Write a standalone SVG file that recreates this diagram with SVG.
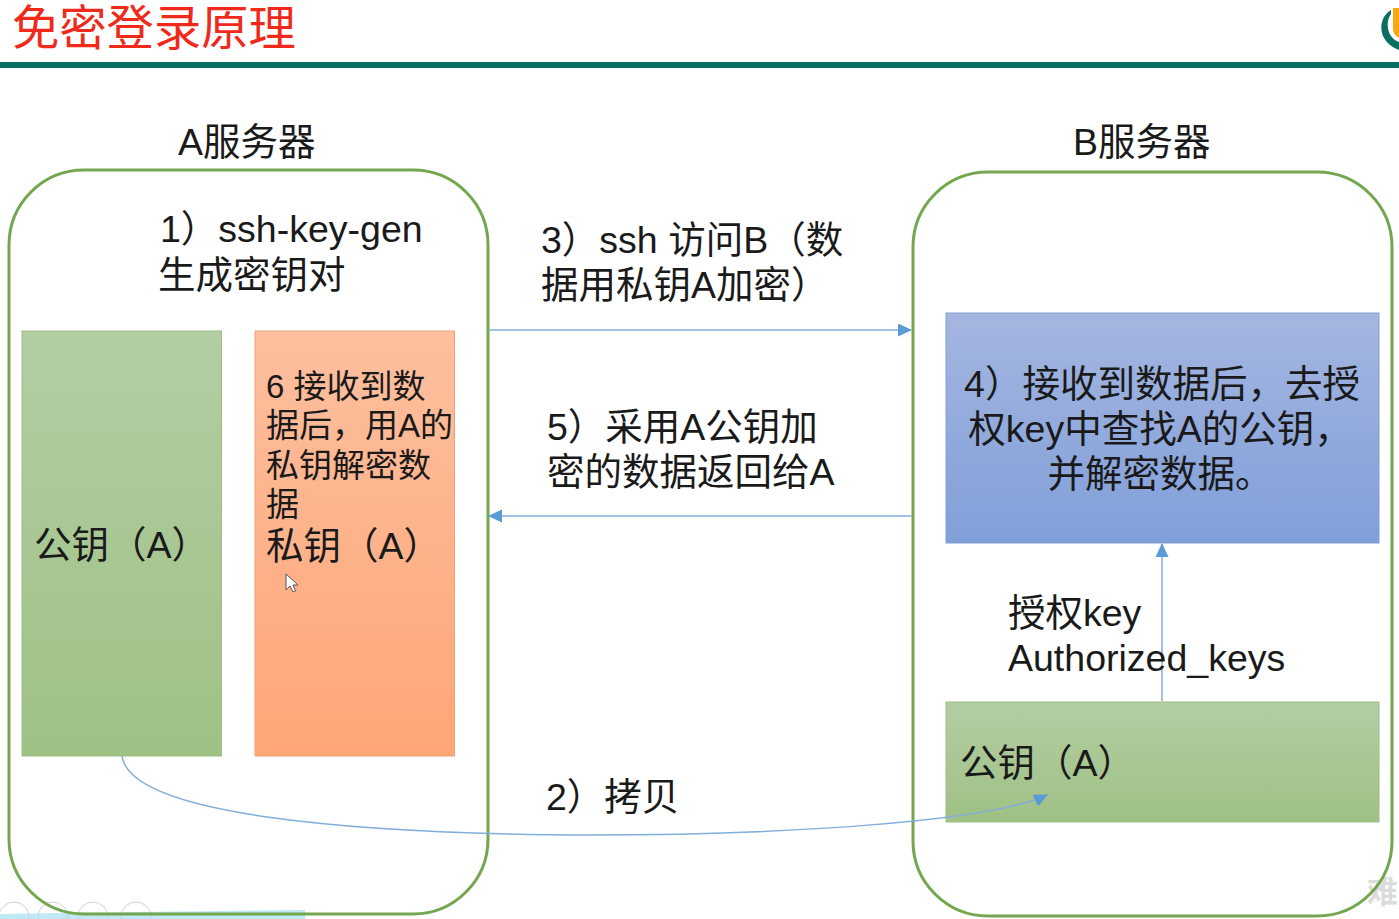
<svg xmlns="http://www.w3.org/2000/svg" width="1399" height="919" viewBox="0 0 1399 919">
<defs>
<linearGradient id="gGreen" x1="0" y1="0" x2="0" y2="1"><stop offset="0" stop-color="#b3cda3"/><stop offset="1" stop-color="#9fc184"/></linearGradient>
<linearGradient id="gOrange" x1="0" y1="0" x2="0" y2="1"><stop offset="0" stop-color="#fdbf9f"/><stop offset="1" stop-color="#fea676"/></linearGradient>
<linearGradient id="gBlue" x1="0" y1="0" x2="0" y2="1"><stop offset="0" stop-color="#a5b6e0"/><stop offset="1" stop-color="#809fd9"/></linearGradient>
<marker id="arr" markerUnits="userSpaceOnUse" markerWidth="14" markerHeight="14" refX="13" refY="6.5" orient="auto"><path d="M0,0 L14,6.5 L0,13 Z" fill="#5b9bd5"/></marker>
</defs>
<style>
text{font-family:"Liberation Sans","Noto Sans CJK SC",sans-serif;fill:#1a1a1a}
.t{font-size:37.500px}
.s{font-size:33px}
.server{fill:none;stroke:#74a64f;stroke-width:3}
.line{fill:none;stroke:#82aedb;stroke-width:1.500}
.box{stroke-width:1}
</style>
<rect width="1399" height="919" fill="#fff"/>
<g id="header">
<text x="12" y="45" font-size="47.300" style="fill:#f02a1a">免密登录原理</text>
<rect x="0" y="62" width="1399" height="6" fill="#0b6e63"/>
<path d="M1391,10 C1377,18 1377,42 1399,50 L1399,42 C1387,38 1385,22 1391,14 Z" fill="#0b6e63"/>
<path d="M1393,8 L1399,8 L1399,38 C1395,36 1393,33 1393,29 Z" fill="#f7a80f"/>
</g>
<g id="overlay">
<path d="M0,914 L60,913 L305,910 L305,919 L0,919 Z" fill="#bfe9f5"/>
<g fill="none" stroke="#d2d2d2" stroke-width="1"><circle cx="14" cy="917" r="15"/><circle cx="53" cy="917" r="15"/><circle cx="93" cy="917" r="15"/><circle cx="136" cy="917" r="15"/></g>
<text x="1367" y="903" font-size="31" style="fill:#dcdcdc" font-weight="bold">难</text>
</g>
<g id="server-a">
<rect class="server" x="9" y="170" width="479" height="744" rx="75" ry="75"/>
<text class="t" x="178" y="155">A服务器</text>
<text class="t" x="160" y="242">1）ssh-key-gen</text>
<text class="t" x="158" y="288">生成密钥对</text>
</g>
<g id="server-b">
<rect class="server" x="913" y="172" width="479" height="744" rx="75" ry="75"/>
<text class="t" x="1073" y="155">B服务器</text>
</g>
<g id="public-a">
<rect class="box" x="22" y="331" width="199.500" height="425" fill="url(#gGreen)" stroke="#9dbd85"/>
<text class="t" x="34" y="558">公钥（A）</text>
</g>
<g id="private-a">
<rect class="box" x="255" y="331" width="199.500" height="425" fill="url(#gOrange)" stroke="#eda17a"/>
<text class="s" x="266" y="398">6 接收到数</text>
<text class="s" x="266" y="437">据后，用A的</text>
<text class="s" x="266" y="477">私钥解密数</text>
<text class="s" x="266" y="516">据</text>
<text class="t" x="266" y="559">私钥（A）</text>
<path d="M286,574 L286,590 L290,586 L293,592 L295.500,591 L293,585 L298,585 Z" fill="#fff" stroke="#555" stroke-width="1"/>
</g>
<g id="decrypt-b">
<rect class="box" x="946" y="313" width="433" height="230" fill="url(#gBlue)" stroke="#7f9fd0"/>
<text class="t" x="1162" y="397" text-anchor="middle">4）接收到数据后，去授</text>
<text class="t" x="1160" y="442" text-anchor="middle">权key中查找A的公钥，</text>
<text class="t" x="1160" y="487" text-anchor="middle">并解密数据。</text>
</g>
<g id="public-b">
<rect class="box" x="946" y="702" width="433" height="120" fill="url(#gGreen)" stroke="#9dbd85"/>
<text class="t" x="960" y="776">公钥（A）</text>
</g>
<g id="connectors">
<path class="line" d="M489,330 L911,330" marker-end="url(#arr)"/>
<path class="line" d="M912,516 L489,516" marker-end="url(#arr)"/>
<path class="line" d="M1162,701 L1162,544" marker-end="url(#arr)"/>
<path class="line" d="M122,756 C130,815 350,834 590,835 C780,835 990,822 1047,795" marker-end="url(#arr)"/>
</g>
<g id="labels">
<text class="t" x="541" y="253">3）ssh 访问B（数</text>
<text class="t" x="541" y="298">据用私钥A加密）</text>
<text class="t" x="547" y="440">5）采用A公钥加</text>
<text class="t" x="547" y="485">密的数据返回给A</text>
<text class="t" x="1008" y="626">授权key</text>
<text class="t" x="1008" y="671">Authorized_keys</text>
<text class="t" x="546" y="810">2）拷贝</text>
</g>
</svg>
